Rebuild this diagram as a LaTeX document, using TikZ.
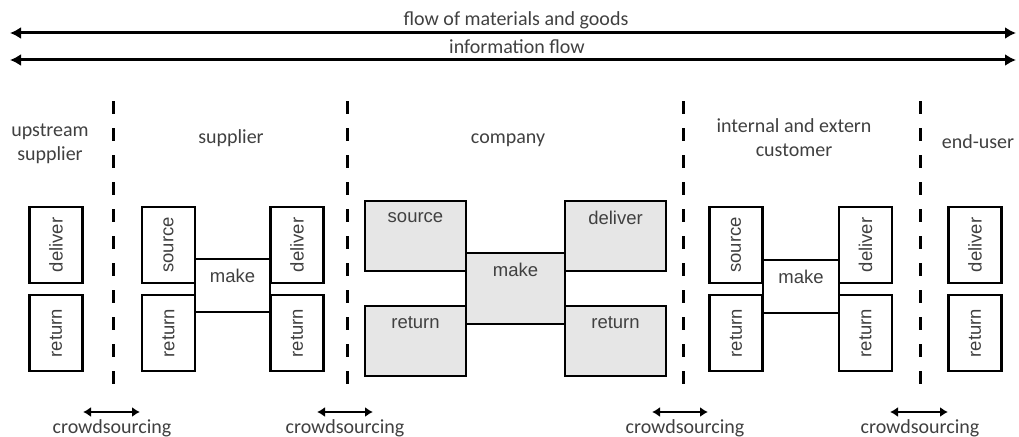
\documentclass[tikz,border=0pt]{standalone}
\usepackage{fontspec}
\setmainfont{Carlito}
\newfontfamily\boxfont{Liberation Sans}
\usetikzlibrary{arrows.meta}
\definecolor{txt}{HTML}{404040}
\definecolor{boxgray}{HTML}{E6E6E6}
\tikzset{
  hdr/.style={text=txt, font=\fontsize{20}{24}\selectfont, inner sep=0pt, align=center},
  sbox/.style={draw, line width=2.4pt, inner sep=0pt, minimum width=53pt, minimum height=76pt, text=txt, font=\boxfont\fontsize{18.5}{20}\selectfont},
  mbox/.style={draw, line width=2pt, inner sep=0pt, minimum width=75pt, minimum height=53pt, fill=white, text=txt, font=\boxfont\fontsize{18.5}{20}\selectfont},
  cbox/.style={draw, line width=2.4pt, inner sep=0pt, minimum width=101pt, minimum height=70pt, fill=boxgray, text=txt, font=\boxfont\fontsize{18.5}{20}\selectfont},
  divider/.style={line width=3pt, dash pattern=on 13pt off 14pt},
  bigarrow/.style={line width=3pt, {Latex[length=11pt,width=12pt]}-{Latex[length=11pt,width=12pt]}},
  crowdarrow/.style={line width=2.5pt, {Latex[length=8pt,width=10pt]}-{Latex[length=8pt,width=10pt]}},
  toplabel/.style={anchor=center, yshift=-18pt, text=txt, font=\boxfont\fontsize{18.5}{20}\selectfont, inner sep=0pt}
}
\begin{document}
\begin{tikzpicture}[x=1pt,y=-1pt]
\useasboundingbox (0,0) rectangle (1019,436);

% top flows
\coordinate (fl) at (10,33); \coordinate (fr) at (1016,33);
\coordinate (il) at (10,60); \coordinate (ir) at (1016,60);
\draw[bigarrow] (fl) -- (fr);
\draw[bigarrow] (il) -- (ir);
\node[hdr, anchor=base] (flowlbl) at (516,26) {flow of materials and goods};
\node[hdr, anchor=base] (infolbl) at (517,53) {information flow};

% dividers
\foreach \x/\n in {113/d1,347/d2,683/d3,920/d4}{
  \coordinate (\n t) at (\x,101);
  \coordinate (\n b) at (\x,389);
  \draw[divider] (\n t) -- (\n b);
}

% headers
\node[hdr] (hup) at (50,144) {upstream\\supplier};
\node[hdr, anchor=base] (hsup) at (231,143) {supplier};
\node[hdr, anchor=base] (hcom) at (508,143) {company};
\node[hdr] (hcus) at (794,138) {internal and extern\\customer};
\node[hdr, anchor=base] (hend) at (978,148) {end-user};

% upstream supplier
\node[sbox] (upd) at (56,245) {\rotatebox{90}{deliver}};
\node[sbox] (upr) at (56,333) {\rotatebox{90}{return}};

% supplier
\node[sbox] (sus) at (168.5,245) {\rotatebox{90}{source}};
\node[sbox] (sur) at (168.5,333) {\rotatebox{90}{return}};
\node[sbox] (sud) at (297,245) {\rotatebox{90}{deliver}};
\node[sbox] (sudr) at (297,333) {\rotatebox{90}{return}};
\node[mbox, minimum width=75pt, label={[toplabel]north:make}] (sum) at (232.5,285.5) {};

% company
\node[cbox, label={[toplabel]north:source}] (cos) at (415.5,236) {};
\node[cbox, label={[toplabel]north:deliver}] (cod) at (615.5,236) {};
\node[cbox, label={[toplabel]north:return}] (cor) at (415.5,341) {};
\node[cbox, label={[toplabel]north:return}] (codr) at (615.5,341) {};
\node[cbox, minimum width=99pt, minimum height=71pt, label={[toplabel]north:make}] (com) at (515.5,288.5) {};

% customer
\node[sbox] (cus) at (736,245) {\rotatebox{90}{source}};
\node[sbox] (cur) at (736,333) {\rotatebox{90}{return}};
\node[sbox] (cud) at (865.5,245) {\rotatebox{90}{deliver}};
\node[sbox] (cudr) at (865.5,333) {\rotatebox{90}{return}};
\node[mbox, minimum width=76pt, label={[toplabel]north:make}] (cum) at (801,286) {};

% end-user
\node[sbox] (end) at (975,245) {\rotatebox{90}{deliver}};
\node[sbox] (enr) at (975,333) {\rotatebox{90}{return}};

% crowdsourcing
\foreach \a/\b/\c/\n in {83/140/112/c1,317/373/345/c2,652/708/685/c3,890/948/920/c4}{
  \coordinate (\n l) at (\a,412);
  \coordinate (\n r) at (\b,412);
  \draw[crowdarrow] (\n l) -- (\n r);
  \node[hdr, anchor=base] (\n t) at (\c,433) {crowdsourcing};
}
\end{tikzpicture}
\end{document}
